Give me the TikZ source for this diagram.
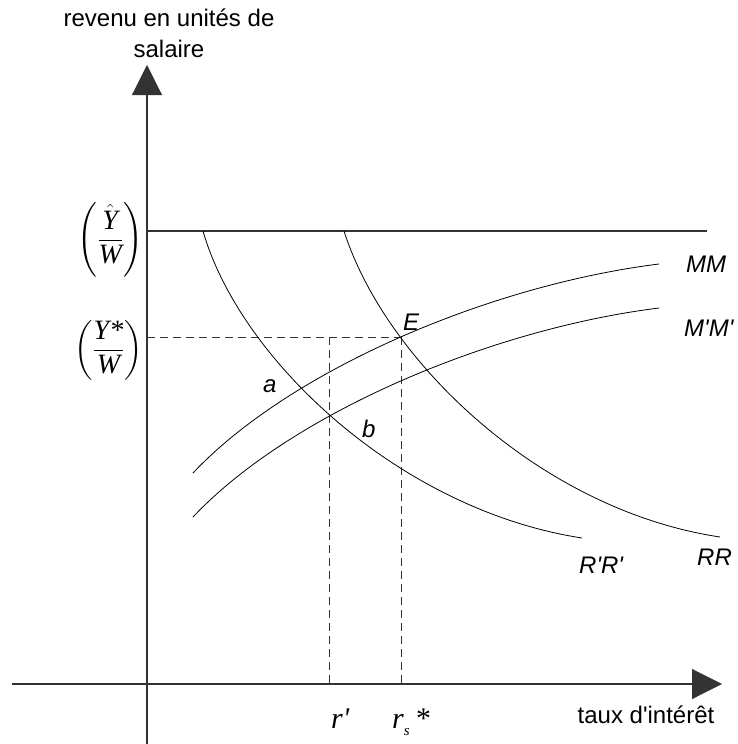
\documentclass[tikz,border=0pt]{standalone}
\usepackage{amsmath}
\usepackage{fontspec}
\setmainfont{Liberation Sans}[Ligatures=TeXOff]
\newfontfamily\tnr{Liberation Serif}
\usetikzlibrary{arrows.meta}

\begin{document}
\begin{tikzpicture}[x=1pt,y=-1pt,
    axe/.style={line width=1.1pt, black!80},
    courbe/.style={line width=0.8pt},
    pointille/.style={line width=0.8pt, black!80, dash pattern=on 8pt off 5pt},
    lbl/.style={inner sep=0pt, font=\fontsize{24}{31}\selectfont},
    fleche/.style={-{Triangle[length=30pt,width=30pt]}}]
    \useasboundingbox (0,0) rectangle (738,744);

    % Axes
    \coordinate (O) at (147,684);
    \coordinate (Ybas) at (147,745);
    \coordinate (Yhaut) at (147,65);
    \coordinate (Xgauche) at (12,684);
    \coordinate (Xdroite) at (722,684);
    \draw[axe, fleche] (Ybas) -- (Yhaut);
    \draw[axe, fleche] (Xgauche) -- (Xdroite);

    % Revenu maximal
    \coordinate (Ymax) at (147,231);
    \coordinate (Ymaxd) at (707,231);
    \draw[axe] (Ymax) -- (Ymaxd);

    % Points d'equilibre
    \coordinate (E) at (401,337);
    \coordinate (Ystar) at (147,337);
    \coordinate (Fh) at (329,337);
    \coordinate (rp) at (329,684);
    \coordinate (rs) at (401,684);

    % Pointilles
    \draw[pointille] (Ystar) -- (E);
    \draw[pointille] (Fh) -- (rp);
    \draw[pointille] (E) -- (rs);

    % Courbes MM et M'M'
    \draw[courbe] (193,473) .. controls (290,370) and (490,285) .. (659,264);
    \draw[courbe] (193,517) .. controls (290,414) and (490,329) .. (659,308);

    % Courbes RR et R'R'
    \draw[courbe] (344,231) .. controls (385,360) and (540,510) .. (720,537);
    \draw[courbe] (203,231) .. controls (240,360) and (400,510) .. (582,538);

    % Etiquettes
    \node[lbl, align=center, anchor=north] (titreY) at (169,9) {revenu en unités de\\salaire};
    \node[lbl, anchor=base] (titreX) at (646,723) {taux d'intérêt};
    \node[lbl, anchor=base west] (lMM) at (686,272) {\itshape MM};
    \node[lbl, anchor=base west] (lMpMp) at (684,336) {\itshape M'M'};
    \node[lbl, anchor=base west] (lRR) at (697,565) {\itshape RR};
    \node[lbl, anchor=base west] (lRpRp) at (579,573) {\itshape R'R'};
    \node[lbl, anchor=base west] (lE) at (403,330) {\itshape E};
    \node[lbl, anchor=base west] (la) at (263,392) {\itshape a};
    \node[lbl, anchor=base west] (lb) at (362,437) {\itshape b};
    \node[inner sep=0pt, anchor=base west, font=\fontsize{30}{30}\tnr\itshape] (lrp) at (331,728) {r'};
    \node[inner sep=0pt, anchor=base west, font=\fontsize{30}{30}\tnr\itshape] (lrs) at (392,728)
        {r\raisebox{-7pt}{\fontsize{15}{15}\selectfont s}\,*};
    \node[inner sep=0pt, anchor=east, font=\fontsize{28}{34}\tnr\itshape] (lYmax) at (143,240)
        {$\left(\dfrac{\hat{\hbox{Y}}}{\hbox{W}}\right)$};
    \node[inner sep=0pt, anchor=east, font=\fontsize{28}{34}\tnr\itshape] (lYstar) at (143,350)
        {$\left(\dfrac{\hbox{Y*}}{\hbox{W}}\right)$};
\end{tikzpicture}
\end{document}
